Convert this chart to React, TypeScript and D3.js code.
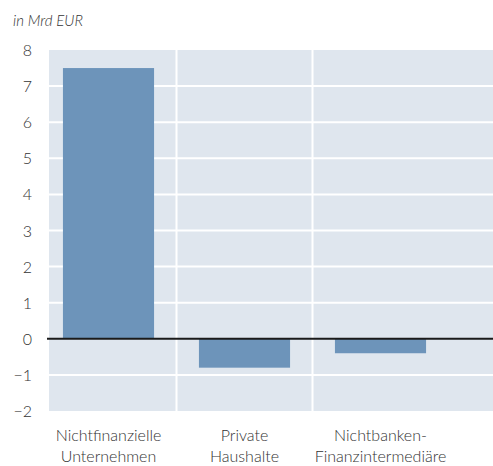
import React from "react";
import * as d3 from "d3";

const categories = ["Nichtfinanzielle Unternehmen", "Private Haushalte", "Nichtbanken-Finanzintermediäre"];
const labelLines = [["Nichtfinanzielle", "Unternehmen"], ["Private", "Haushalte"], ["Nichtbanken-", "Finanzintermediäre"]];
const values = [7.5, -0.8, -0.4];
const yTicks = [-2, -1, 0, 1, 2, 3, 4, 5, 6, 7, 8];

const width = 493;
const height = 466;

const App = () => {
  const x = d3.scaleBand().domain(categories).range([40.5, 448.5]).paddingInner(0.33).paddingOuter(0.165);
  const y = d3.scaleLinear().domain([-2, 8]).range([411, 50]);
  const plotLeft = 49;
  const plotRight = width;
  const step = x.step();
  const font = "Lato, 'Open Sans', sans-serif";

  return (
    <svg width={width} height={height} style={{ position: "absolute", left: 0, top: 0, display: "block" }}>
      <rect x={plotLeft} y={y(8)} width={plotRight - plotLeft} height={y(-2) - y(8)} fill="#dfe6ee" />
      {yTicks.filter((t) => t !== 8 && t !== -2 && t !== 0).map((t) => (
        <line key={t} x1={plotLeft} x2={plotRight} y1={y(t)} y2={y(t)} stroke="#fff" strokeWidth={2} />
      ))}
      {categories.slice(0, -1).map((c) => {
        const gx = (x(c) as number) + x.bandwidth() + (step - x.bandwidth()) / 2;
        return <line key={c} x1={gx} x2={gx} y1={y(8)} y2={y(-2)} stroke="#fff" strokeWidth={2} />;
      })}
      {categories.map((c, i) => (
        <rect
          key={c}
          x={x(c)}
          width={x.bandwidth()}
          y={y(Math.max(0, values[i]))}
          height={Math.abs(y(values[i]) - y(0))}
          fill="#6d94ba"
        />
      ))}
      <line x1={47} x2={plotRight} y1={y(0)} y2={y(0)} stroke="#1a1a1a" strokeWidth={2} />
      {yTicks.map((t) => (
        <text key={t} x={32} y={y(t) + 6} textAnchor="end" fontFamily={font} fontWeight={300} fontSize={16} fill="#333">
          {t < 0 ? "\u2212" + Math.abs(t) : t}
        </text>
      ))}
      {categories.map((c, i) => (
        <text key={c} textAnchor="middle" fontFamily={font} fontWeight={300} fontSize={16} fill="#333">
          {labelLines[i].map((l, j) => (
            <tspan key={j} x={(x(c) as number) + x.bandwidth() / 2} y={441 + j * 21}>
              {l}
            </tspan>
          ))}
        </text>
      ))}
      <text x={13} y={26} fontFamily={font} fontWeight={300} fontStyle="italic" fontSize={15} fill="#333">
        in Mrd EUR
      </text>
    </svg>
  );
};

export default App;
